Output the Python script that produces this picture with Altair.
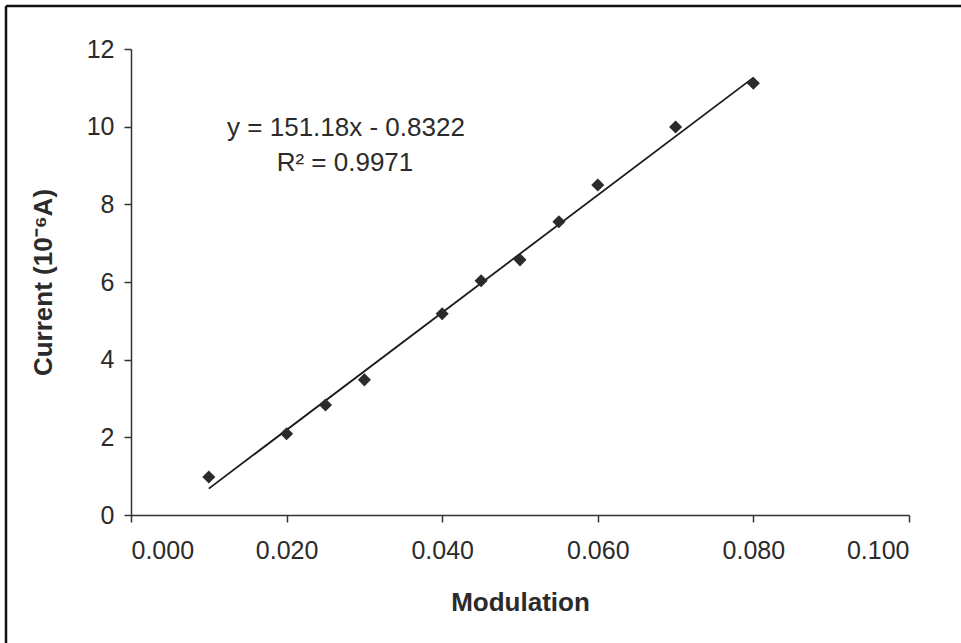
import altair as alt
import pandas as pd

# Measured current versus modulation depth
modulation = [0.010, 0.020, 0.025, 0.030, 0.040, 0.045, 0.050, 0.055, 0.060, 0.070, 0.080]
current = [0.98, 2.09, 2.83, 3.48, 5.18, 6.03, 6.57, 7.55, 8.50, 9.99, 11.12]

# Least-squares fit reported on the chart
slope = 151.18
intercept = -0.8322
r_squared = 0.9971

x_ticks = [0.0, 0.02, 0.04, 0.06, 0.08, 0.1]
y_ticks = [0, 2, 4, 6, 8, 10, 12]

points = pd.DataFrame({"Modulation": modulation, "Current": current})

x_ends = [min(modulation), max(modulation)]
fit = pd.DataFrame({"Modulation": x_ends,
                    "Current": [slope * v + intercept for v in x_ends]})

FONT = "Liberation Sans"
INK = "#2b2b2b"

x_enc = alt.X("Modulation:Q",
              scale=alt.Scale(domain=[0, 0.1], nice=False, zero=True),
              axis=alt.Axis(values=x_ticks, format=".3f", title="Modulation",
                            labelPadding=16, titlePadding=26))
y_enc = alt.Y("Current:Q",
              scale=alt.Scale(domain=[0, 12], nice=False),
              axis=alt.Axis(values=y_ticks, format="d", title="Current (10⁻⁶A)",
                            labelPadding=10, titlePadding=30))

scatter = alt.Chart(points).mark_point(
    shape="diamond", filled=True, size=170, color=INK, opacity=1
).encode(x=x_enc, y=y_enc)

fit_line = alt.Chart(fit).mark_line(color="#1a1a1a", strokeWidth=1.8).encode(
    x="Modulation:Q", y="Current:Q"
)

one = pd.DataFrame({"k": [0]})

equation = alt.Chart(one).mark_text(
    text=f"y = {slope}x - {abs(intercept)}", font=FONT, fontSize=26,
    color=INK, align="center", baseline="alphabetic"
).encode(x=alt.value(215), y=alt.value(87))

r2_text = alt.Chart(one).mark_text(
    text=f"R² = {r_squared}", font=FONT, fontSize=26,
    color=INK, align="center", baseline="alphabetic"
).encode(x=alt.value(214), y=alt.value(122))

# Outer frame: top and left edges
frame_top = alt.Chart(one).mark_rule(color="#111111", strokeWidth=2.5).encode(
    x=alt.value(-125), x2=alt.value(900), y=alt.value(-43)
)
frame_left = alt.Chart(one).mark_rule(color="#111111", strokeWidth=2.5).encode(
    x=alt.value(-125), y=alt.value(-43), y2=alt.value(700)
)

chart = alt.layer(
    frame_top, frame_left, fit_line, scatter, equation, r2_text
).properties(
    width=778, height=466,
    autosize=alt.AutoSizeParams(type="none"),
    padding={"left": 131, "top": 49, "right": 52, "bottom": 128},
    background="white",
).configure_view(
    stroke=None
).configure_axis(
    grid=False,
    domainColor="#333333", domainWidth=1.5,
    tickColor="#333333", tickWidth=1.5, tickSize=7,
    labelFont=FONT, labelFontSize=25, labelColor=INK,
    titleFont=FONT, titleFontSize=26, titleFontWeight="bold", titleColor=INK,
)

chart.save("out.html", embed_options={"renderer": "svg", "actions": False})
